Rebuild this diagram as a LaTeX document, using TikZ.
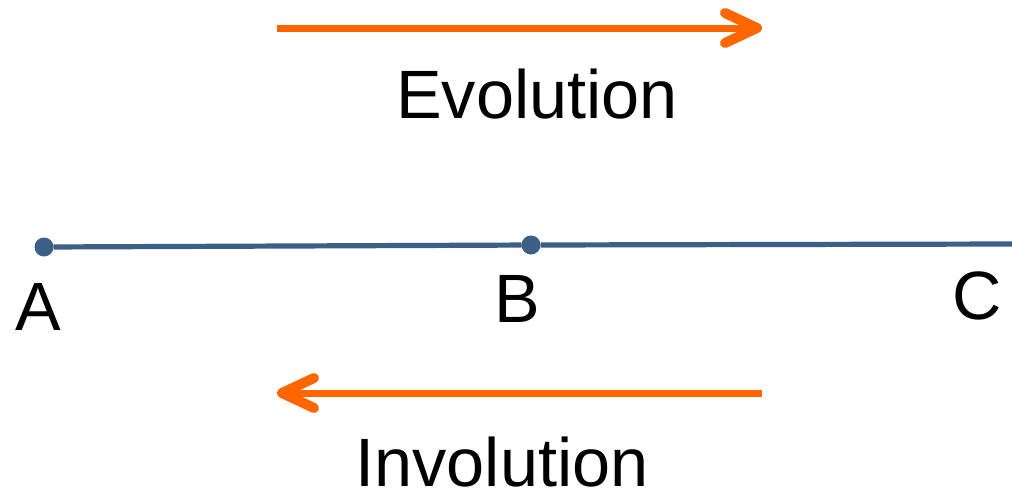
\documentclass[tikz,border=0pt]{standalone}
\usepackage{fontspec}
\setmainfont{Liberation Sans}
\usepackage{tikz}
\usetikzlibrary{arrows.meta}
\definecolor{flow}{RGB}{255,102,0}
\definecolor{seg}{RGB}{60,95,135}
\tikzset{flowarrow/.style={draw=flow, line width=3.5pt, -{Straight Barb[round, length=16pt, width=15pt, line width=5pt]}}}
\tikzset{pt/.style={circle, fill=seg, minimum size=9.5pt, inner sep=0pt, outer sep=0pt}}
\tikzset{lbl/.style={anchor=base, font=\fontsize{34.2}{40}\selectfont}}

\begin{document}
\begin{tikzpicture}[x=0.5pt, y=-0.5pt]
		\useasboundingbox (0,0) rectangle (1012,495);
		\node[pt] at (44,247) (a) {};
		\node[pt] at (531,245) (b) {};
		\coordinate (c) at (1012,244);
		\node[lbl] at (38,330) (la) {A};
		\node[lbl] at (517,322) (lb) {B};
		\node[lbl] at (977,319) (lc) {C};

		\coordinate (evs) at (277,28);
		\coordinate (eve) at (762,28);
		\node[lbl] at (537,118) (ev) {Evolution};
		\coordinate (ins) at (762,393);
		\coordinate (ine) at (277,393);
		\node[lbl] at (502,486) (in) {Involution};

		\draw[seg, line width=2.6pt] (a) -- (b) -- (c);
		\draw[flowarrow] (evs) -- (eve);
		\draw[flowarrow] (ins) -- (ine);
		\end{tikzpicture}
\end{document}
